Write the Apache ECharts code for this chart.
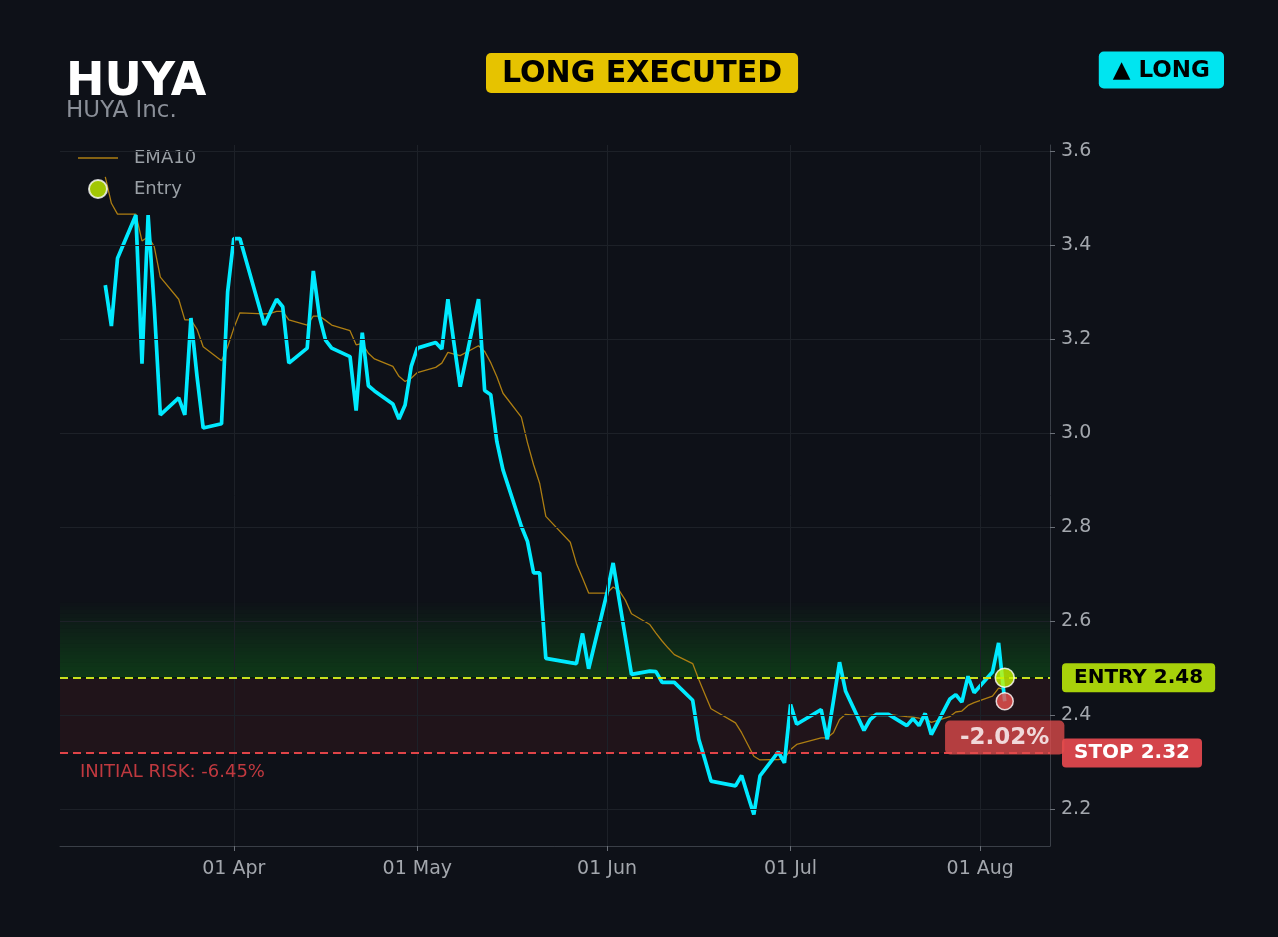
<!DOCTYPE html>
<html><head><meta charset="utf-8">
<style>html,body{margin:0;padding:0;background:#0e1118;}#chart{width:1278px;height:937px;}</style>
<script src="https://cdn.jsdelivr.net/npm/echarts@6/dist/echarts.min.js"></script>
</head><body><div id="chart"></div>
<script>
// ---- data ----
const dates = [
 '2026-03-11','2026-03-12','2026-03-13','2026-03-16','2026-03-17','2026-03-18','2026-03-19','2026-03-20','2026-03-23','2026-03-24','2026-03-25','2026-03-26','2026-03-27','2026-03-30','2026-03-31',
 '2026-04-01','2026-04-02','2026-04-06','2026-04-07','2026-04-08','2026-04-09','2026-04-10','2026-04-13','2026-04-14','2026-04-15','2026-04-16','2026-04-17','2026-04-20','2026-04-21','2026-04-22','2026-04-23','2026-04-24','2026-04-27','2026-04-28','2026-04-29','2026-04-30',
 '2026-05-01','2026-05-04','2026-05-05','2026-05-06','2026-05-07','2026-05-08','2026-05-11','2026-05-12','2026-05-13','2026-05-14','2026-05-15','2026-05-18','2026-05-19','2026-05-20','2026-05-21','2026-05-22','2026-05-26','2026-05-27','2026-05-28','2026-05-29',
 '2026-06-01','2026-06-02','2026-06-03','2026-06-04','2026-06-05','2026-06-08','2026-06-09','2026-06-10','2026-06-11','2026-06-12','2026-06-15','2026-06-16','2026-06-17','2026-06-18','2026-06-22','2026-06-23','2026-06-24','2026-06-25','2026-06-26','2026-06-29','2026-06-30',
 '2026-07-01','2026-07-02','2026-07-06','2026-07-07','2026-07-08','2026-07-09','2026-07-10','2026-07-13','2026-07-14','2026-07-15','2026-07-16','2026-07-17','2026-07-20','2026-07-21','2026-07-22','2026-07-23','2026-07-24','2026-07-27','2026-07-28','2026-07-29','2026-07-30','2026-07-31',
 '2026-08-03','2026-08-04','2026-08-05'
];
const closePrices = [
 3.315,3.228,3.372,3.464,3.148,3.464,3.27,3.039,3.075,3.039,3.245,3.12,3.011,3.020,3.301,
 3.414,3.414,3.230,3.258,3.285,3.269,3.149,3.181,3.345,3.248,3.198,3.181,3.163,3.048,3.214,3.101,3.09,3.062,3.030,3.060,3.142,
 3.181,3.193,3.179,3.285,3.19,3.099,3.285,3.091,3.082,2.982,2.922,2.802,2.770,2.703,2.703,2.521,2.512,2.510,2.574,2.499,
 2.66,2.724,2.645,2.566,2.487,2.494,2.493,2.470,2.470,2.470,2.432,2.349,2.306,2.260,2.250,2.272,2.23,2.189,2.271,2.322,2.299,
 2.423,2.381,2.412,2.349,2.43,2.513,2.451,2.368,2.391,2.402,2.402,2.402,2.378,2.393,2.378,2.404,2.359,2.434,2.444,2.428,2.483,2.448,
 2.492,2.554,2.43
];
const ema10 = [
 3.545,3.489,3.466,3.466,3.409,3.418,3.397,3.332,3.285,3.241,3.241,3.221,3.184,3.154,3.184,
 3.223,3.256,3.254,3.255,3.259,3.259,3.241,3.230,3.249,3.249,3.240,3.230,3.218,3.188,3.191,3.17,3.158,3.142,3.121,3.110,3.117,
 3.129,3.140,3.149,3.172,3.168,3.165,3.186,3.174,3.150,3.12,3.085,3.034,2.98,2.933,2.893,2.823,2.768,2.723,2.692,2.660,
 2.660,2.673,2.665,2.645,2.616,2.593,2.575,2.558,2.543,2.529,2.510,2.476,2.445,2.414,2.384,2.363,2.338,2.313,2.305,2.306,2.308,
 2.327,2.338,2.352,2.352,2.363,2.391,2.402,2.398,2.400,2.402,2.402,2.402,2.397,2.396,2.394,2.393,2.385,2.397,2.407,2.409,2.421,2.427,
 2.441,2.458,2.455
];
const monthTicks = ['2026-04-01','2026-05-01','2026-06-01','2026-07-01','2026-08-01'];
const yTicks = [2.2,2.4,2.6,2.8,3.0,3.2,3.4,3.6];
const entryPrice = 2.48;
const stopPrice = 2.32;
const lastPrice = 2.43;
const initialRisk = -6.45;
const ticker = 'HUYA';
const company = 'HUYA Inc.';

// ---- helpers ----
const DAY = 864e5;
const ts = s => { const p = s.split('-').map(Number); return Date.UTC(p[0], p[1]-1, p[2]); };
const MONTHS = ['Jan','Feb','Mar','Apr','May','Jun','Jul','Aug','Sep','Oct','Nov','Dec'];
const fmtDate = v => { const d = new Date(v); return String(d.getUTCDate()).padStart(2,'0') + ' ' + MONTHS[d.getUTCMonth()]; };
const t = dates.map(ts);
const xMin = t[0] - 7.4*DAY, xMax = t[t.length-1] + 7.4*DAY;
const yMin = 2.122, yMax = 3.613;
const lastT = t[t.length-1];
const pct = ((lastPrice/entryPrice - 1)*100).toFixed(2) + '%';
const FONT = 'DejaVu Sans';
const xTickVals = monthTicks.map(ts);

// green "reward" zone as stacked bands above the entry
const reward = entryPrice - stopPrice;
const N = 20;
const greenBands = [];
for (let i = 0; i < N; i++) {
  greenBands.push([{yAxis: entryPrice, itemStyle:{color:'rgba(40,150,50,0.021)'}}, {yAxis: entryPrice + reward*(i+1)/N}]);
}
const areas = [[{yAxis: stopPrice, itemStyle:{color:'rgba(220,50,60,0.09)'}}, {yAxis: entryPrice}]].concat(greenBands);

const chart = echarts.init(document.getElementById('chart'));
chart.setOption({
  backgroundColor: '#0e1118',
  animation: false,
  textStyle: {fontFamily: FONT},
  title: [
    {text: ticker, left: 66, top: 60, padding: 0, textStyle: {color:'#ffffff', fontSize: 46, fontWeight:'bold', fontFamily: FONT}},
    {text: company, left: 66, top: 100, padding: 0, textStyle: {color:'#8a8f98', fontSize: 23, fontWeight:'normal', fontFamily: FONT}},
    {text: 'LONG EXECUTED', left: 486, top: 53, padding: [6,16,4,16], backgroundColor:'#e6c300', borderRadius: 5,
     textStyle: {color:'#000', fontSize: 30, lineHeight: 30, fontWeight:'bold', fontFamily: FONT}},
    {text: '▲ LONG', right: 54, top: 52, padding: [8,14,6,14], backgroundColor:'#00e5f0', borderRadius: 5,
     textStyle: {color:'#000', fontSize: 23, lineHeight: 22, fontWeight:'bold', fontFamily: FONT}}
  ],
  legend: {
    left: 78, top: 149, padding: 0, orient: 'vertical', itemWidth: 40, itemHeight: 18, itemGap: 12,
    textStyle: {color:'#9aa0a6', fontSize: 18, fontFamily: FONT, padding:[2,0,0,11]},
    data: [{name:'EMA10', icon:'path://M0,0h40v1.5h-40z'}, {name:'Entry', icon:'circle'}]
  },
  grid: {left: 60, right: 228, top: 145, bottom: 91, containLabel: false},
  xAxis: {
    type: 'value', min: xMin, max: xMax,
    axisLine: {show: true, lineStyle: {color:'#3a3f47', width: 1}},
    axisTick: {show: true, length: 5, lineStyle: {color:'#6b7078'}, customValues: xTickVals},
    axisLabel: {color:'#a3a7ad', fontSize: 19, margin: 14, fontFamily: FONT, customValues: xTickVals, formatter: v => fmtDate(v)},
    splitLine: {show: false}
  },
  yAxis: {
    type: 'value', position: 'right', min: yMin, max: yMax,
    axisLine: {show: true, lineStyle: {color:'#3a3f47', width: 1}},
    axisTick: {show: true, length: 5, lineStyle: {color:'#6b7078'}, customValues: yTicks},
    axisLabel: {color:'#a3a7ad', fontSize: 19, margin: 11, fontFamily: FONT, padding:[5,0,0,0], customValues: yTicks, formatter: v => v.toFixed(1)},
    splitLine: {show: false}
  },
  series: [
    {
      name: 'zones', type: 'line', data: [], silent: true, z: 1,
      markArea: {silent: true, data: areas},
      markLine: {
        silent: true, symbol: 'none', animation: false,
        data: xTickVals.map(m => ({xAxis: m, lineStyle:{color:'#1d2128', width:1, type:'solid'}, label:{show:false}}))
          .concat(yTicks.map(v => ({yAxis: v, lineStyle:{color:'#1d2128', width:1, type:'solid'}, label:{show:false}})))
          .concat([
            {yAxis: entryPrice, lineStyle:{color:'#c8e01e', width:2, type:[8,5]},
             label:{show:true, position:'end', distance: 12, formatter: 'ENTRY ' + entryPrice.toFixed(2),
                    backgroundColor:'#a8d10a', color:'#000', fontWeight:'bold', fontSize:20, fontFamily: FONT,
                    padding:[5,12,4,12], borderRadius:4}},
            {yAxis: stopPrice, lineStyle:{color:'#e04448', width:2, type:[8,5]},
             label:{show:true, position:'end', distance: 12, formatter: 'STOP ' + stopPrice.toFixed(2),
                    backgroundColor:'#d4444a', color:'#fff', fontWeight:'bold', fontSize:20, fontFamily: FONT,
                    padding:[5,12,4,12], borderRadius:4}},
            {yAxis: stopPrice, lineStyle:{color:'transparent', width:0},
             label:{show:true, position:'insideStartBottom', distance: 8, formatter: 'INITIAL RISK: ' + initialRisk.toFixed(2) + '%',
                    color:'#c0393f', fontSize:18, fontFamily: FONT, padding:[2,0,0,12]}}
          ])
      }
    },
    {
      name: 'EMA10', type: 'line', z: 2, symbol: 'none', smooth: false,
      data: t.map((x,i) => [x, ema10[i]]),
      lineStyle: {color:'#ad7e12', width: 1.3},
      itemStyle: {color:'#ad7e12'}
    },
    {
      name: 'Price', type: 'line', z: 3, symbol: 'none', smooth: false,
      data: t.map((x,i) => [x, closePrices[i]]),
      lineStyle: {color:'#00eaff', width: 3.7},
      itemStyle: {color:'#00eaff'}
    },
    {
      name: 'Entry', type: 'scatter', z: 5, symbolSize: 19,
      data: [[lastT, entryPrice]],
      itemStyle: {color:'#c8f500', borderColor:'#ffffff', borderWidth: 1.5}
    },
    {
      name: 'Current', type: 'scatter', z: 6, symbolSize: 17,
      data: [[lastT, lastPrice]],
      itemStyle: {color:'#ef5350', borderColor:'#ffffff', borderWidth: 1.5},
      label: {show: true, position: 'bottom', distance: 10, formatter: pct,
              backgroundColor:'rgba(228,76,76,0.95)', color:'#fff', fontWeight:'bold', fontSize: 23, fontFamily: FONT,
              padding:[6,15,5,15], borderRadius: 5}
    }
  ]
});
</script>
</body></html>
